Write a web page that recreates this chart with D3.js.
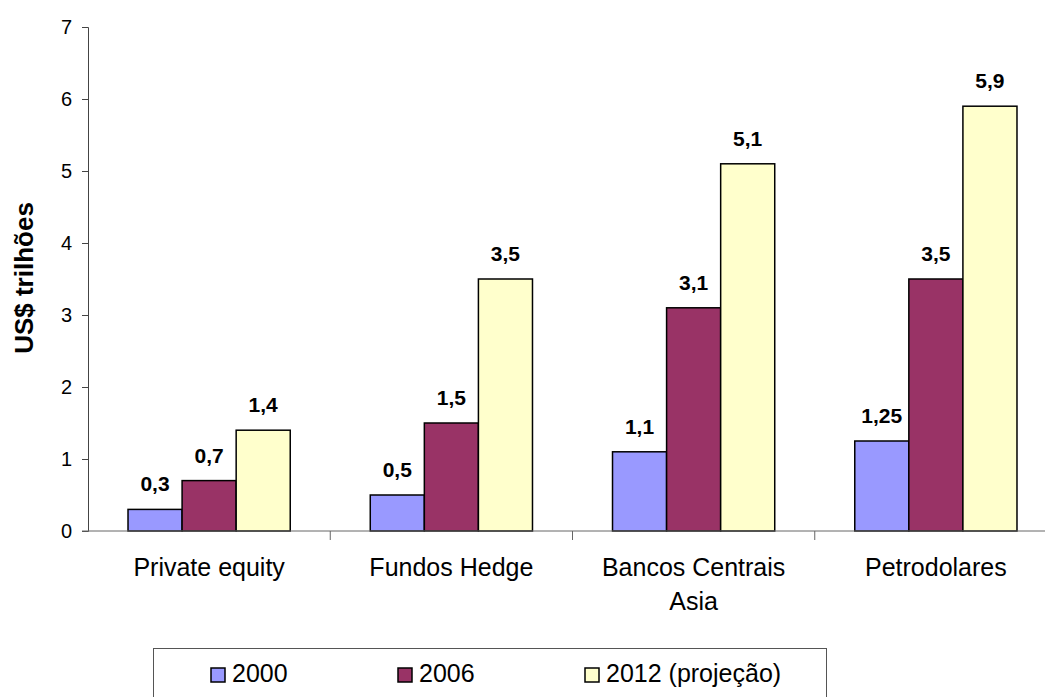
<!DOCTYPE html>
<html>
<head>
<meta charset="utf-8">
<script src="https://cdn.jsdelivr.net/npm/d3@7"></script>
<style>
  body { margin: 0; background: #fff; }
  svg { display: block; font-family: "Liberation Sans", Arial, sans-serif; }
</style>
</head>
<body>
<script>
// chart data
const categories = ["Private equity", "Fundos Hedge", "Bancos Centrais Asia", "Petrodolares"];
const series = ["2000", "2006", "2012 (projeção)"];
const values2000 = [0.3, 0.5, 1.1, 1.25];
const values2006 = [0.7, 1.5, 3.1, 3.5];
const values2012 = [1.4, 3.5, 5.1, 5.9];
const labels2000 = ["0,3", "0,5", "1,1", "1,25"];
const labels2006 = ["0,7", "1,5", "3,1", "3,5"];
const labels2012 = ["1,4", "3,5", "5,1", "5,9"];
const yTicks = [0, 1, 2, 3, 4, 5, 6, 7];

const colors = ["#9999ff", "#993366", "#ffffcc"];
const seriesValues = [values2000, values2006, values2012];
const seriesLabels = [labels2000, labels2006, labels2012];

const width = 1045, height = 697;
const margin = {left: 88, top: 27, right: -12, bottom: 166};

const svg = d3.select("body").append("svg")
    .attr("width", width)
    .attr("height", height);

const x = d3.scaleBand()
    .domain(categories)
    .range([margin.left, width - margin.right]);

const xInner = d3.scaleBand()
    .domain(series)
    .range([0, x.bandwidth()])
    .paddingOuter(0.74);

const y = d3.scaleLinear()
    .domain([0, 7])
    .range([height - margin.bottom, margin.top]);

// bars
const cells = (c, ci) => series.map((s, si) => ({s, si, v: seriesValues[si][ci], label: seriesLabels[si][ci]}));

const groups = svg.append("g").selectAll("g")
  .data(categories)
  .join("g")
    .attr("transform", d => `translate(${x(d)},0)`);

groups.selectAll("rect")
  .data(cells)
  .join("rect")
    .attr("x", d => xInner(d.s))
    .attr("y", d => y(d.v))
    .attr("width", xInner.bandwidth())
    .attr("height", d => y(0) - y(d.v))
    .attr("fill", d => colors[d.si])
    .attr("stroke", "#000")
    .attr("stroke-width", 1.5);

groups.selectAll("text")
  .data(cells)
  .join("text")
    .attr("x", d => xInner(d.s) + xInner.bandwidth() / 2)
    .attr("y", d => y(d.v) - 18)
    .attr("text-anchor", "middle")
    .style("font-size", "21px")
    .style("font-weight", "bold")
    .text(d => d.label);

// y axis
const yAxis = svg.append("g")
    .attr("transform", `translate(${margin.left},0)`)
    .call(d3.axisLeft(y).tickValues(yTicks).tickFormat(d3.format("d")).tickSize(6).tickPadding(10));
yAxis.select(".domain").attr("stroke", "#444");
yAxis.selectAll(".tick line").attr("stroke", "#444");
yAxis.selectAll(".tick text")
    .style("font-size", "20px")
    .attr("fill", "#000");

// x axis with ticks between categories
const x0 = y(0);
svg.append("line")
    .attr("x1", margin.left - 6).attr("x2", width)
    .attr("y1", x0).attr("y2", x0)
    .attr("stroke", "#666");
svg.append("g").selectAll("line")
  .data(categories.slice(1))
  .join("line")
    .attr("x1", d => x(d)).attr("x2", d => x(d))
    .attr("y1", x0).attr("y2", x0 + 9)
    .attr("stroke", "#666");

// category labels, wrapped like the original
const catLines = {"Bancos Centrais Asia": ["Bancos Centrais", "Asia"]};
svg.append("g").selectAll("text")
  .data(categories)
  .join("text")
    .attr("x", d => x(d) + x.bandwidth() / 2)
    .attr("y", 576)
    .attr("text-anchor", "middle")
    .style("font-size", "25px")
  .selectAll("tspan")
  .data(d => catLines[d] || [d])
  .join("tspan")
    .attr("x", function() { return d3.select(this.parentNode).attr("x"); })
    .attr("dy", (d, i) => i ? 34 : 0)
    .text(d => d);

// y title
svg.append("text")
    .attr("transform", `translate(33,278) rotate(-90)`)
    .attr("text-anchor", "middle")
    .style("font-size", "26px")
    .style("font-weight", "bold")
    .text("US$ trilhões");

// legend
const legend = svg.append("g");
legend.append("rect")
    .attr("x", 153.5).attr("y", 648.5)
    .attr("width", 673).attr("height", 60)
    .attr("fill", "#fff")
    .attr("stroke", "#555");
const legendX = [211, 398, 585];
const item = legend.selectAll("g.item")
  .data(series)
  .join("g")
    .attr("class", "item")
    .attr("transform", (d, i) => `translate(${legendX[i]},668)`);
item.append("rect")
    .attr("width", 14).attr("height", 14)
    .attr("fill", (d, i) => colors[i])
    .attr("stroke", "#000")
    .attr("stroke-width", 1.5);
item.append("text")
    .attr("x", 21).attr("y", 14)
    .style("font-size", "25px")
    .text(d => d);
</script>
</body>
</html>
